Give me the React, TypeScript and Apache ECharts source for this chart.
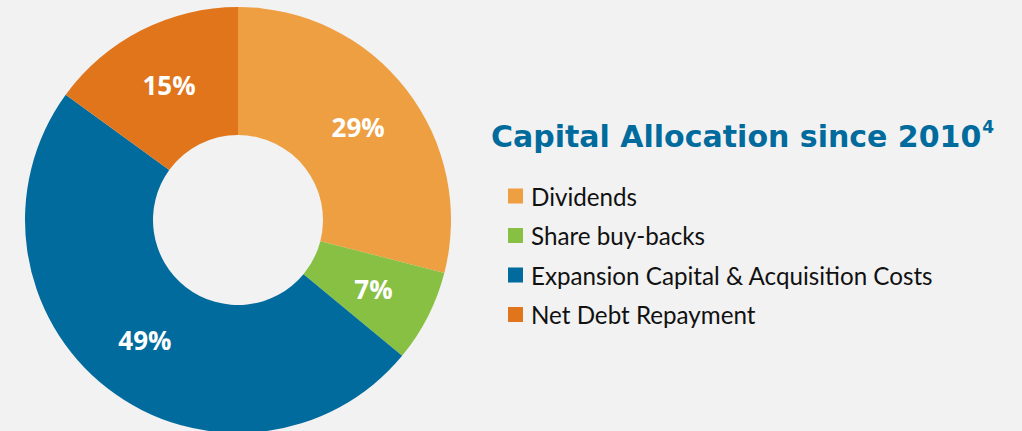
import React, { useEffect, useRef } from "react";
import * as echarts from "echarts";

const categories = [
  "Dividends",
  "Share buy-backs",
  "Expansion Capital & Acquisition Costs",
  "Net Debt Repayment",
];
const shares = [29, 7, 49, 15];
const colors = ["#EE9F42", "#88C043", "#006B9C", "#E0751C"];
const titleText = "Capital Allocation since 2010";
const titleSup = "4";

export default function App() {
  const ref = useRef<HTMLDivElement>(null);
  useEffect(() => {
    document.body.style.margin = "0";
    const chart = echarts.init(ref.current!, null, { renderer: "svg" });
    chart.setOption({
      animation: false,
      backgroundColor: "#F2F2F2",
      title: {
        text: `{t|${titleText}}{s|${titleSup}}`,
        left: 491,
        top: 118,
        padding: 0,
        textStyle: {
          rich: {
            t: {
              fontFamily: "DejaVu Sans",
              fontWeight: "bold",
              fontSize: 30,
              color: "#006B9C",
              lineHeight: 36,
            },
            s: {
              fontFamily: "DejaVu Sans",
              fontWeight: "bold",
              fontSize: 17,
              color: "#006B9C",
              verticalAlign: "top",
              lineHeight: 36,
              padding: [0, 0, 10, 1],
            },
          },
        },
      },
      legend: {
        orient: "vertical",
        left: 508,
        top: 184,
        padding: 0,
        icon: "rect",
        itemWidth: 15,
        itemHeight: 15,
        itemGap: 15.5,
        selectedMode: false,
        data: categories,
        textStyle: {
          fontFamily: "Lato",
          fontSize: 24.2,
          color: "#111111",
          lineHeight: 24,
          padding: [0, 0, 0, 3],
        },
      },
      series: [
        {
          type: "pie",
          center: [238, 220],
          radius: [85, 213],
          startAngle: 90,
          clockwise: true,
          avoidLabelOverlap: false,
          label: {
            show: true,
            position: "inside",
            formatter: "{c}%",
            color: "#FFFFFF",
            fontFamily: "Open Sans",
            fontWeight: "bold",
            fontSize: 26,
          },
          labelLine: { show: false },
          emphasis: { disabled: true },
          data: categories.map((name, i) => ({
            name,
            value: shares[i],
            itemStyle: { color: colors[i] },
          })),
        },
      ],
    });
    return () => chart.dispose();
  }, []);
  return <div ref={ref} style={{ width: 1022, height: 431 }} />;
}
